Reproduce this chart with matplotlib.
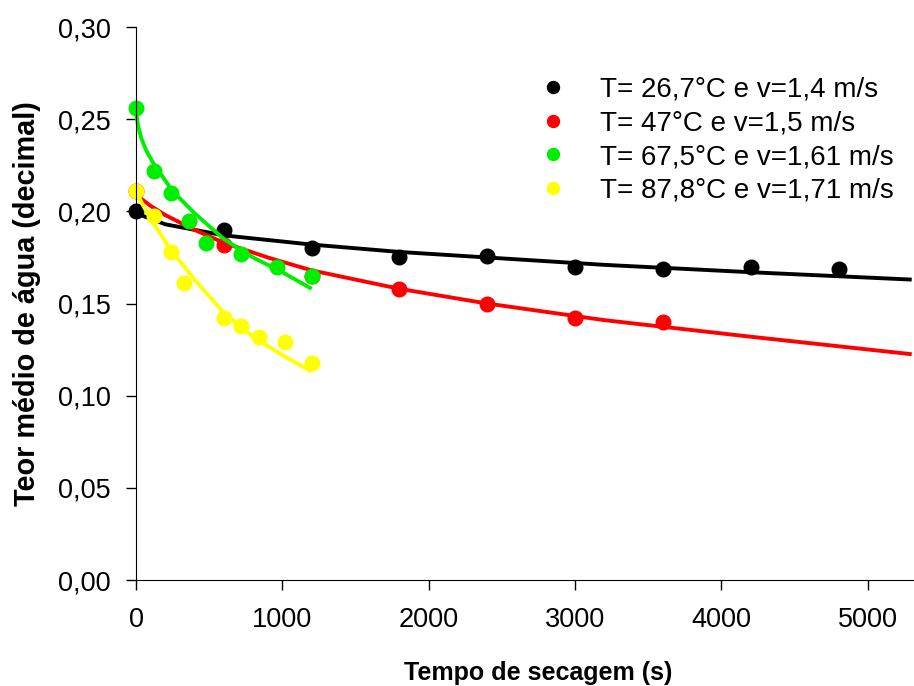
import matplotlib
matplotlib.use('Agg')
import matplotlib.pyplot as plt

plt.rcParams['font.family'] = ['Liberation Sans', 'DejaVu Sans']

# --- measured points (tempo em s, teor de agua decimal) ---
black_t = [0, 600, 1200, 1800, 2400, 3000, 3600, 4200, 4800]
black_y = [0.200, 0.190, 0.180, 0.175, 0.176, 0.170, 0.169, 0.170, 0.169]

red_t = [0, 600, 1200, 1800, 2400, 3000, 3600]
red_y = [0.211, 0.182, 0.165, 0.158, 0.150, 0.142, 0.140]

green_t = [0, 120, 240, 360, 480, 720, 960, 1200]
green_y = [0.256, 0.222, 0.210, 0.195, 0.183, 0.177, 0.170, 0.165]

yellow_t = [0, 120, 240, 330, 600, 720, 840, 1020, 1200]
yellow_y = [0.211, 0.1975, 0.178, 0.161, 0.142, 0.138, 0.132, 0.129, 0.118]

# --- fitted curves ---
black_fit_t = [0, 200, 600, 1200, 1800, 2400, 3200, 4200, 5300]
black_fit_y = [0.199, 0.193, 0.187, 0.182, 0.178, 0.175, 0.171, 0.167, 0.163]

red_fit_t = [0, 100, 200, 400, 600, 900, 1200, 1800, 2400, 3200, 4200, 5300]
red_fit_y = [0.209, 0.203, 0.198, 0.190, 0.183, 0.175, 0.168, 0.158, 0.150, 0.141, 0.132, 0.1225]

green_fit_t = [0, 15, 35, 70, 120, 250, 400, 600, 800, 1000, 1200]
green_fit_y = [0.254, 0.246, 0.240, 0.233, 0.226, 0.211, 0.199, 0.185, 0.175, 0.167, 0.158]

yellow_fit_t = [0, 50, 100, 230, 400, 600, 800, 1000, 1200]
yellow_fit_y = [0.211, 0.203, 0.196, 0.180, 0.163, 0.145, 0.132, 0.122, 0.113]

labels = ['T= 26,7°C e v=1,4 m/s', 'T= 47°C e v=1,5 m/s',
          'T= 67,5°C e v=1,61 m/s', 'T= 87,8°C e v=1,71 m/s']
colors = ['black', '#ff0000', '#00ee00', '#ffff00']

x_ticks = [0, 1000, 2000, 3000, 4000, 5000]
y_ticks = [0.00, 0.05, 0.10, 0.15, 0.20, 0.25, 0.30]

fig = plt.figure(figsize=(9.14, 6.86), dpi=100)
ax = fig.add_axes([0.1488, 0.1545, 0.8807, 0.806])

series = [
    (black_t, black_y, black_fit_t, black_fit_y),
    (red_t, red_y, red_fit_t, red_fit_y),
    (green_t, green_y, green_fit_t, green_fit_y),
    (yellow_t, yellow_y, yellow_fit_t, yellow_fit_y),
]

handles = []
for (t, y, ft, fy), c, lab in zip(series, colors, labels):
    ax.plot(ft, fy, color=c, lw=2.8, solid_capstyle='butt', clip_on=False)
    h, = ax.plot(t, y, 'o', color=c, ms=10.5, mec=c, clip_on=False, label=lab)
    handles.append(h)

ax.set_xlim(0, 5500)
ax.set_ylim(0, 0.30)
ax.set_xticks(x_ticks)
ax.set_yticks(y_ticks)
ax.set_xticklabels([str(v) for v in x_ticks], fontsize=19.5)
ax.set_yticklabels([f'{v:.2f}'.replace('.', ',') for v in y_ticks], fontsize=19.5)
ax.tick_params(direction='out', length=7, width=1)
ax.tick_params(axis='x', pad=12.5)
ax.tick_params(axis='y', pad=11)

for s in ['top', 'right']:
    ax.spines[s].set_visible(False)

ax.set_xlabel('Tempo de secagem (s)', fontsize=18, fontweight='bold', labelpad=20)
ax.set_ylabel('Teor médio de água (decimal)', fontsize=20.8, fontweight='bold', labelpad=12)

leg = ax.legend(handles=handles, loc='upper left', bbox_to_anchor=(539 / 914, 1 - 77 / 686),
                bbox_transform=fig.transFigure, frameon=False, fontsize=20,
                handlelength=1.0, handletextpad=1.19, labelspacing=0.27,
                borderpad=0, borderaxespad=0, markerscale=0.82)

fig.savefig('out.png', dpi=100)
